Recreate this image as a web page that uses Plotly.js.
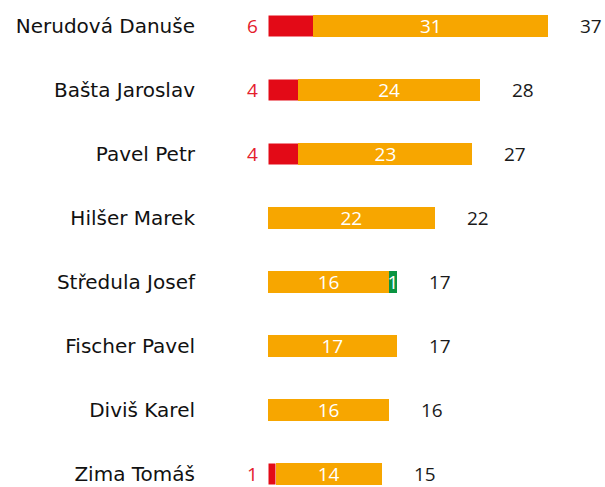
<!DOCTYPE html>
<html>
<head>
<meta charset="utf-8">
<script src="https://cdn.plot.ly/plotly-3.0.1.min.js"></script>
<style>html,body{margin:0;padding:0;background:#fff}#chart{width:605px;height:487px}</style>
</head>
<body>
<div id="chart"></div>
<script>
const names = ["Nerudová Danuše","Bašta Jaroslav","Pavel Petr","Hilšer Marek","Středula Josef","Fischer Pavel","Diviš Karel","Zima Tomáš"];
const redVals = [6,4,4,0,0,0,0,1];
const orangeVals = [31,24,23,22,16,17,16,14];
const greenVals = [0,0,0,0,1,0,0,0];
const totals = [37,28,27,22,17,17,16,15];

const FONT = "Open Sans, Noto Sans, sans-serif";
const NAMEFONT = "DejaVu Sans, Open Sans, sans-serif";
const RED = "#e30a17", ORANGE = "#f7a600", GREEN = "#0a9441";

const barW = 0.34;
const traces = [
  {type:'bar', orientation:'h', y:names, x:redVals, width:barW,
   marker:{color:RED, line:{color:'#fff', width:0.5}}, hoverinfo:'none'},
  {type:'bar', orientation:'h', y:names, x:orangeVals, width:barW,
   marker:{color:ORANGE, line:{color:'#fff', width:0}},
   text:orangeVals.map(v=>v>0?String(v):''), textposition:'inside', insidetextanchor:'middle', textangle:0,
   constraintext:'none', textfont:{color:'#fff', size:19, family:FONT}, hoverinfo:'none'},
  {type:'bar', orientation:'h', y:names, x:greenVals, width:barW,
   marker:{color:GREEN, line:{color:'#fff', width:0}},
   text:greenVals.map(v=>v>0?String(v):''), textposition:'inside', insidetextanchor:'middle', textangle:0,
   constraintext:'none', cliponaxis:false, textfont:{color:'#fff', size:19, family:FONT}, hoverinfo:'none'}
];

const annotations = [];
names.forEach((n,i)=>{
  if (redVals[i] > 0) {
    annotations.push({x:0, y:n, xref:'x', yref:'y', text:String(redVals[i]), showarrow:false,
      xanchor:'right', xshift:-8, font:{color:'#e4202c', size:19, family:FONT}});
  }
  annotations.push({x:totals[i], y:n, xref:'x', yref:'y', text:String(totals[i]), showarrow:false,
    xanchor:'left', xshift:30, font:{color:'#1a1a1a', size:19, family:FONT}});
});

const layout = {
  width:605, height:487,
  margin:{l:268, r:0, t:0, b:0, pad:0},
  paper_bgcolor:'#fff', plot_bgcolor:'#fff',
  barmode:'stack', showlegend:false,
  uniformtext:{mode:'show', minsize:19},
  xaxis:{range:[0, 44.5], visible:false, showgrid:false, zeroline:false, fixedrange:true},
  yaxis:{type:'category', range:[7.203, -0.406], showgrid:false, zeroline:false, showline:false,
    ticks:'', ticklabelstandoff:72, tickfont:{size:20, color:'#111', family:NAMEFONT}, fixedrange:true},
  annotations:annotations,
  font:{family:FONT}
};

Plotly.newPlot('chart', traces, layout, {displayModeBar:false, staticPlot:true});
</script>
</body>
</html>
